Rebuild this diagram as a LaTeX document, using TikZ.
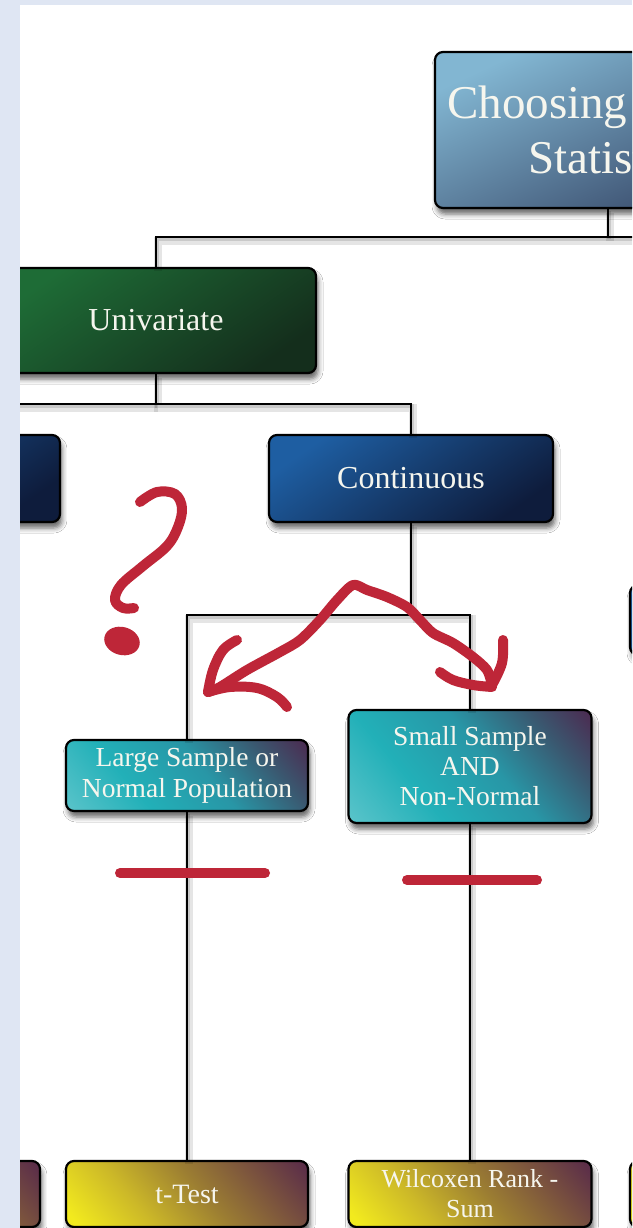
\documentclass[tikz,border=0pt]{standalone}
\usepackage{fontspec}
\setmainfont{Liberation Serif}
\usetikzlibrary{shadows.blur}

\definecolor{frame}{RGB}{223,230,243}
\definecolor{ink}{RGB}{190,38,56}
\definecolor{txt}{RGB}{246,246,238}
\definecolor{titleA}{RGB}{130,182,210}
\definecolor{titleB}{RGB}{56,74,106}
\definecolor{greenA}{RGB}{30,108,54}
\definecolor{greenB}{RGB}{20,46,28}
\definecolor{blueA}{RGB}{30,94,162}
\definecolor{blueB}{RGB}{14,28,60}
% teal ramp, light corner to purple corner
\definecolor{tealA}{RGB}{90,196,202}
\definecolor{tealB}{RGB}{34,176,184}
\definecolor{tealC}{RGB}{40,150,166}
\definecolor{tealD}{RGB}{58,88,112}
\definecolor{tealE}{RGB}{76,42,80}
% yellow ramp, bright corner to purple corner
\definecolor{yelA}{RGB}{242,234,30}
\definecolor{yelB}{RGB}{204,184,40}
\definecolor{yelC}{RGB}{156,126,50}
\definecolor{yelD}{RGB}{122,82,62}
\definecolor{yelE}{RGB}{88,42,74}

\pgfdeclareverticalshading{tealramp}{100bp}{color(0bp)=(tealA); color(15bp)=(tealA);
  color(35bp)=(tealB); color(55bp)=(tealC); color(72bp)=(tealD); color(85bp)=(tealE); color(100bp)=(tealE)}
\pgfdeclareverticalshading{yelramp}{100bp}{color(0bp)=(yelA); color(18bp)=(yelA);
  color(36bp)=(yelB); color(54bp)=(yelC); color(70bp)=(yelD); color(85bp)=(yelE); color(100bp)=(yelE)}

\tikzset{
  box/.style={draw=black, line width=2.2pt, rounded corners=8pt, inner sep=0pt,
    text=txt, align=center,
    blur shadow={shadow xshift=2pt, shadow yshift=-6pt, shadow blur radius=5pt, shadow opacity=60}},
  titlebox/.style={box, top color=titleA, bottom color=titleB, shading angle=25},
  greenbox/.style={box, top color=greenA, bottom color=greenB, shading angle=35},
  bluebox/.style={box, top color=blueA, bottom color=blueB, shading angle=35},
  tealbox/.style={box, shading=tealramp, shading angle=-50},
  yellowbox/.style={box, shading=yelramp, shading angle=-50},
  bigtext/.style={font=\fontsize{32}{36}\selectfont},
  titletext/.style={text=txt, inner sep=0pt, font=\fontsize{47}{54}\selectfont},
  conn/.style={draw=black, line width=2pt,
    preaction={draw=black, opacity=0.10, line width=8pt, transform canvas={xshift=2pt, yshift=-4pt}},
    preaction={draw=black, opacity=0.12, line width=4pt, transform canvas={xshift=1pt, yshift=-2pt}}},
  pen/.style={draw=ink, line width=10pt, line cap=round, line join=round},
}

\begin{document}
\begin{tikzpicture}[x=1pt, y=-1pt]
\useasboundingbox (0,0) rectangle (632,1228);
\fill[frame] (0,0) rectangle (632,1228);

\begin{scope}
\clip (20,5) rectangle (632,1228);
\fill[white] (20,5) rectangle (632,1228);

% tree boxes
\node[titlebox, minimum width=346pt, minimum height=156pt] (top) at (608,130) {};
\node[titletext, anchor=base west] (title1) at (447,119) {Choosing};
\node[titletext, anchor=base west] (title2) at (528,173) {Statistical};

\node[greenbox, bigtext, minimum width=320pt, minimum height=105pt] (uni) at (156,320.5) {Univariate};
\node[bluebox, minimum width=320pt, minimum height=87pt] (disc) at (-100,478.5) {};
\node[bluebox, bigtext, minimum width=284pt, minimum height=87pt] (cont) at (411,478.5) {Continuous};
\node[bluebox, minimum width=242pt, minimum height=70pt] (side) at (751,620) {};

\node[tealbox, font=\fontsize{27.5}{31}\selectfont, minimum width=242pt, minimum height=71pt] (large) at (187,775.5)
  {Large Sample or\\Normal Population};
\node[tealbox, font=\fontsize{27.5}{30}\selectfont, minimum width=243pt, minimum height=113pt] (small) at (470,766.5)
  {Small Sample\\AND\\Non-Normal};

\node[yellowbox, minimum width=242pt, minimum height=66pt] (leftend) at (-81,1194) {};
\node[yellowbox, font=\fontsize{28}{30}\selectfont, minimum width=242pt, minimum height=66pt] (ttest) at (187,1194) {t-Test};
\node[yellowbox, font=\fontsize{26}{30}\selectfont, minimum width=243pt, minimum height=66pt] (wilc) at (470,1194) {Wilcoxen Rank -\\Sum};
\node[yellowbox, minimum width=242pt, minimum height=66pt] (rightend) at (751,1194) {};

% connectors
\coordinate (rb) at (720,237);
\draw[conn] (top.south) -- (top.south |- rb);
\draw[conn] (uni.north) |- (rb);
\draw[conn] (uni.south) -- ++(0,30) -| (cont.north);
\draw[conn] (uni.south) ++(0,30) -| (disc.north);
\draw[conn] (cont.south) -- ++(0,92) -| (large.north);
\draw[conn] (cont.south) ++(0,92) -| (small.north);
\draw[conn] (large.south) -- (ttest.north);
\draw[conn] (small.south) -- (wilc.north);

% hand-drawn marks
\draw[pen] plot[smooth, tension=0.6] coordinates
  {(140,502) (157,492) (175,494) (182,508) (178,527) (167,546) (143,566) (121,585) (115,600) (123,608) (134,608)};
\fill[ink, rotate around={-15:(122,641)}] (122,641) ellipse (18 and 14);

\draw[pen] plot[smooth, tension=0.5] coordinates
  {(208,692) (220,687) (247,670) (280,652) (300,640) (320,620) (337,600) (353,585)
   (367,590) (387,597) (407,607) (420,620) (433,633) (453,643) (473,657) (487,670) (492,685)};
\draw[pen] plot[smooth, tension=0.6] coordinates {(208,692) (213,670) (223,650) (237,640)};
\draw[pen] plot[smooth, tension=0.6] coordinates {(208,692) (230,687) (257,688) (277,697) (287,707)};
\draw[pen] plot[smooth, tension=0.6] coordinates {(492,685) (502,663) (503,640)};
\draw[pen] plot[smooth, tension=0.6] coordinates {(492,687) (473,685) (453,680) (440,672)};

\draw[pen] (120,873) -- (265,873);
\draw[pen] (407,880) -- (537,880);
\end{scope}
\end{tikzpicture}
\end{document}
